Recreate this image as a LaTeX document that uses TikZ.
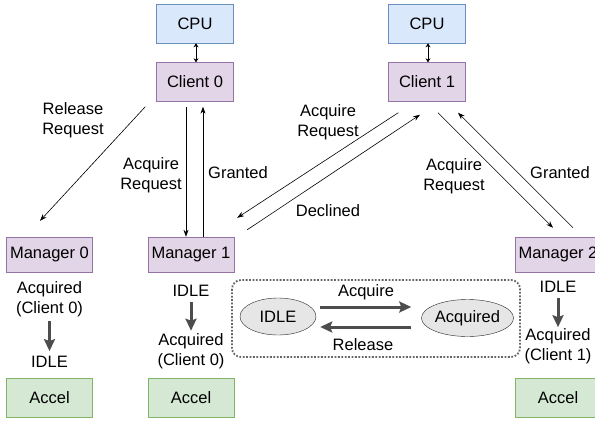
\documentclass[tikz,border=0pt]{standalone}
\usepackage{fontspec}
\setmainfont{Liberation Sans}
\usetikzlibrary{arrows.meta,calc,positioning,shapes.geometric}

\definecolor{cpufill}{HTML}{DAE8FC}
\definecolor{cpuline}{HTML}{6C8EBF}
\definecolor{clfill}{HTML}{E1D5E7}
\definecolor{clline}{HTML}{9673A6}
\definecolor{accfill}{HTML}{D5E8D4}
\definecolor{accline}{HTML}{82B366}
\definecolor{flowgray}{HTML}{4D4D4D}
\definecolor{ellfill}{HTML}{E6E6E6}

\tikzset{
	box/.style={rectangle,draw,inner sep=0pt,minimum width=77pt,minimum height=39pt},
	cpubox/.style={box,fill=cpufill,draw=cpuline},
	clbox/.style={box,fill=clfill,draw=clline},
	mgrbox/.style={box,fill=clfill,draw=clline,minimum width=86pt,minimum height=35pt},
	accbox/.style={box,fill=accfill,draw=accline,minimum width=86pt,minimum height=39pt},
	lbl/.style={inner sep=0pt},
	stnode/.style={ellipse,draw=black!85,fill=ellfill,inner sep=0pt,minimum height=37pt},
	stflow/.style={-{Stealth[length=12pt,width=11pt,inset=2pt]},draw=flowgray,line width=3pt},
	msg/.style={->,line width=0.6pt}
}

\begin{document}
\begin{tikzpicture}[x=1pt,y=-1pt,>={Stealth[length=7pt,width=5pt]},
	font=\fontsize{16.5}{19.8}\selectfont,align=center]
	\useasboundingbox (0,0) rectangle (595,421);
	% hosts
	\node[clbox] (cl0) at (195,82) {Client 0};
	\node[cpubox,above=19pt of cl0] (cpu0) {CPU};
	\node[clbox] (cl1) at (427,82) {Client 1};
	\node[cpubox,above=19pt of cl1] (cpu1) {CPU};
	% managers and accelerators
	\node[mgrbox] (mgr0) at (49.5,254.5) {Manager 0};
	\node[mgrbox] (mgr1) at (191,254.5) {Manager 1};
	\node[mgrbox] (mgr2) at (558,254.5) {Manager 2};
	\node[accbox,below=106pt of mgr0] (acc0) {Accel};
	\node[accbox,below=106pt of mgr1] (acc1) {Accel};
	\node[accbox,below=106pt of mgr2] (acc2) {Accel};

	\draw[<->,>={Stealth[length=4pt,width=5pt]},line width=0.8pt] ([xshift=1pt]cpu0.south) -- ([xshift=1pt]cl0.north);
	\draw[<->,>={Stealth[length=4pt,width=5pt]},line width=0.8pt] ([xshift=1pt]cpu1.south) -- ([xshift=1pt]cl1.north);

	% requests and replies
	\draw[msg] ($(cl0.south west)+(-11,5)$) -- ($(mgr0.north)+(-9.5,-16)$);
	\draw[msg] ($(cl0.south)+(-9,5)$) -- ($(mgr1.north)+(-5,0)$);
	\draw[msg] ($(mgr1.north)+(12,0)$) -- ($(cl0.south)+(8,5)$);
	\draw[msg] ($(cl1.south west)+(10,11)$) -- ($(mgr1.north east)+(3,-19)$);
	\draw[msg] ($(mgr1.north east)+(13,-7)$) -- ($(cl1.south)+(-7,13)$);
	\draw[msg] ($(cl1.south)+(11,11)$) -- ($(mgr2.north)+(-5,-9)$);
	\draw[msg] ($(mgr2.north)+(15,-9)$) -- ($(cl1.south)+(31,11)$);

	\node[lbl] (relq) at (73,120) {Release\\Request};
	\node[lbl] (aq0) at (151,175) {Acquire\\Request};
	\node[lbl] (gr0) at (238,172.5) {Granted};
	\node[lbl] (aq1) at (328,122) {Acquire\\Request};
	\node[lbl] (dec1) at (328,211) {Declined};
	\node[lbl] (aq2) at (454,176) {Acquire\\Request};
	\node[lbl] (gr2) at (560,173) {Granted};

	% state changes
	\node[lbl] (s0a) at (49.5,299.5) {Acquired\\(Client 0)};
	\node[lbl] (s0b) at (49.5,362) {IDLE};
	\node[lbl] (s1a) at (191,291) {IDLE};
	\node[lbl] (s1b) at (191,351.5) {Acquired\\(Client 0)};
	\node[lbl] (s2a) at (558,287) {IDLE};
	\node[lbl] (s2b) at (558,346) {Acquired\\(Client 1)};
	\draw[stflow,shorten <=4pt,shorten >=5pt] (s0a) -- (s0b);
	\draw[stflow,shorten <=5pt,shorten >=3pt] (s1a) -- (s1b);
	\draw[stflow,shorten <=5pt,shorten >=1pt] (s2a) -- (s2b);

	% legend
	\draw[draw=black!60,line width=1.8pt,dash pattern=on 1.8pt off 1.6pt,rounded corners=9pt] (232,280) rectangle (520,357);
	\node[stnode,minimum width=76pt] (idle) at (278,316.5) {IDLE};
	\node[stnode,minimum width=89pt] (acq) at (467.5,318) {Acquired};
	\draw[stflow] ($(idle.east)+(4,-9.5)$) -- ($(acq.west)+(-10,-11)$);
	\draw[stflow] ($(acq.west)+(-10,9)$) -- ($(idle.east)+(4,10.5)$);
	\node[lbl] (acqlbl) at (366,292) {Acquire};
	\node[lbl] (rellbl) at (363,345) {Release};
\end{tikzpicture}
\end{document}
